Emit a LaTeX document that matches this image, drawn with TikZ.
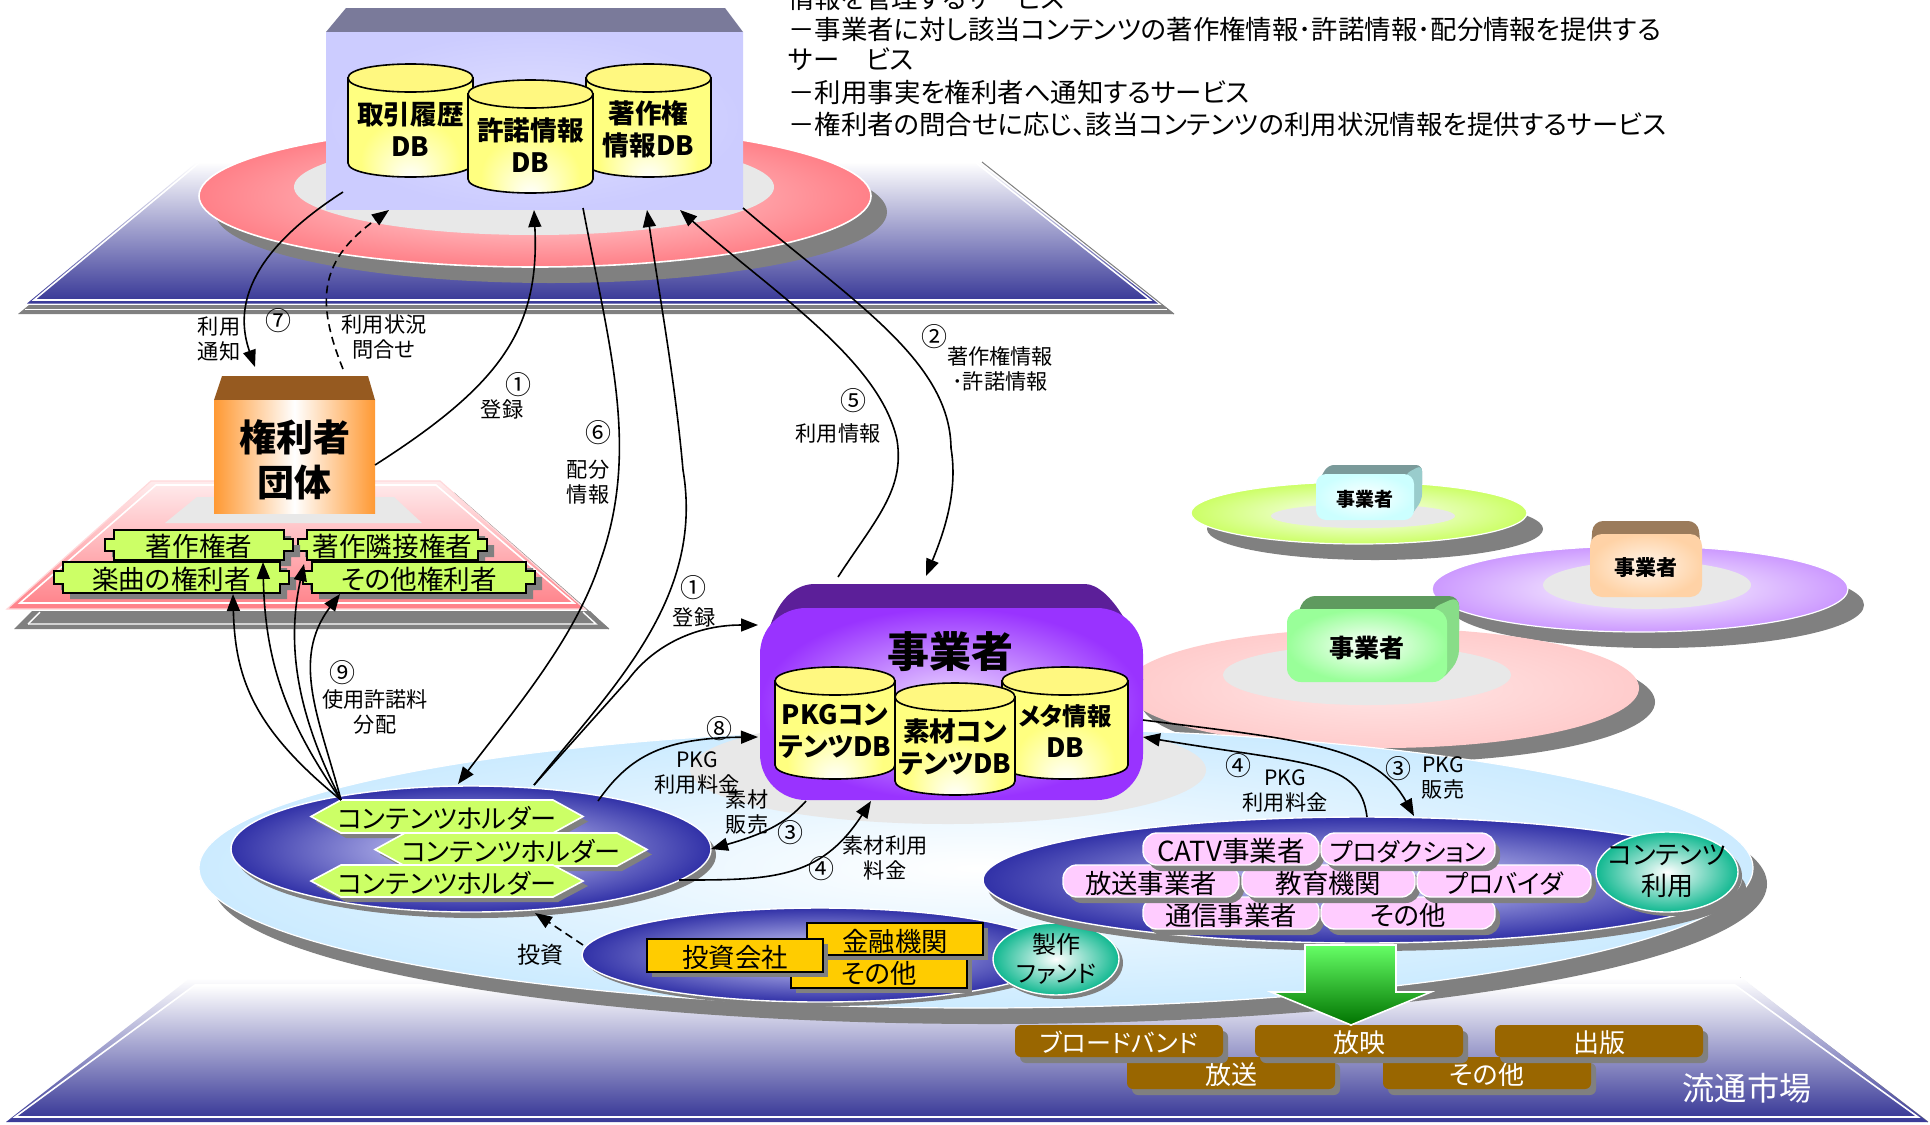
\documentclass[tikz,border=0pt]{standalone}
\usepackage{fontspec}
\setmainfont{Noto Sans CJK JP}[RawFeature={+palt}]
\usetikzlibrary{shapes.geometric,arrows.meta}
\definecolor{navy}{HTML}{3A3A98}
\definecolor{shgray}{HTML}{808080}
\definecolor{pinkred}{HTML}{FF8088}
\definecolor{lime}{HTML}{CCFF66}
\definecolor{gold}{HTML}{FFCC00}
\definecolor{brownb}{HTML}{996600}
\definecolor{pillpink}{HTML}{FFCCFF}
\definecolor{innergray}{HTML}{E8E8E8}
\definecolor{teal2}{HTML}{10B890}
\definecolor{lav}{HTML}{CCCCFF}
\definecolor{skyb}{HTML}{CCEBFF}
\definecolor{purp}{HTML}{9933FF}
\definecolor{purpd}{HTML}{5C1F99}
\definecolor{lilac}{HTML}{CC99FF}
\definecolor{oranf}{HTML}{FF9933}
\definecolor{dbtopc}{HTML}{7A7A9A}
\definecolor{kentop}{HTML}{965A20}
\pgfdeclareradialshading{cylshade}{\pgfpoint{0bp}{-24bp}}{color(0bp)=(white);color(20bp)=(yellow!50!white);color(50bp)=(yellow!50!white)}
\tikzset{
  fs/.style={font=\fontsize{#1pt}{1.2\dimexpr#1pt\relax}\selectfont},
  bfs/.style={font=\fontsize{#1pt}{1.2\dimexpr#1pt\relax}\selectfont\bfseries},
  lbl/.style={fs=10.6,align=center,inner sep=0pt},
  num/.style={fs=13,inner sep=0pt},
  shad/.style 2 args={preaction={fill=shgray,transform canvas={xshift=#1pt,yshift=-#2pt}}},
  conn/.style={-{Triangle[length=8.5pt,width=6.5pt]},line width=0.8pt,black},
  dash2/.style={dash pattern=on 4pt off 2.5pt},
  platgrad/.style={top color=white,middle color=navy!22!white,bottom color=navy},
  elbase/.style={ellipse,inner sep=0pt,outer sep=0pt},
  recbase/.style={rectangle,inner sep=0pt,outer sep=0pt,align=center},
}
\newcommand\elnode[6]{\node[elbase,minimum width=#4pt,minimum height=#5pt,#6] (#1) at (#2,#3) {};}
\newcommand\rbox[7][]{%
  \pgfmathsetmacro\rcx{(#3+#5)/2}\pgfmathsetmacro\rcy{(#4+#6)/2}%
  \pgfmathsetmacro\rw{(#5-#3)/2}\pgfmathsetmacro\rh{(#6-#4)/2}%
  \node[recbase,minimum width=\rw pt,minimum height=\rh pt,#7] (#2) at (\rcx,\rcy) {#1};}
\newcommand\dbcyl[6]{%
  \pgfmathsetmacro\cyA{#4+14}\pgfmathsetmacro\cyB{#5-14}\pgfmathsetmacro\cyC{#5+4.67}%
  \pgfmathsetmacro\cyD{#4-4.67}\pgfmathsetmacro\cyE{#4+32.67}%
  \pgfmathsetmacro\cyX{(#2+#3)/2}\pgfmathsetmacro\cyY{(#4+#5)/2+8.5}%
  \draw[line width=0.8pt,shading=cylshade] (#2,\cyA) -- (#2,\cyB) .. controls (#2,\cyC) and (#3,\cyC) .. (#3,\cyB) -- (#3,\cyA) -- cycle;
  \draw[line width=0.8pt,fill=yellow!50!white] (#2,\cyA) .. controls (#2,\cyD) and (#3,\cyD) .. (#3,\cyA) .. controls (#3,\cyE) and (#2,\cyE) .. (#2,\cyA) -- cycle;
  \node[bfs=13.3,align=center,inner sep=0pt] (#1) at (\cyX,\cyY) {#6};}
\newcommand\plaque[6]{%
  \pgfmathsetmacro\pA{#2+9}\pgfmathsetmacro\pB{#4-9}\pgfmathsetmacro\pC{#3+9}\pgfmathsetmacro\pD{#5-9}%
  \pgfmathsetmacro\rcx{(#2+#4)/2}\pgfmathsetmacro\rcy{(#3+#5)/2}%
  \pgfmathsetmacro\rw{(#4-#2)/2}\pgfmathsetmacro\rh{(#5-#3)/2}%
  \draw[fill=lime,line width=1pt,shad={3.5}{3}] (\pA,#3) -- (\pB,#3) -- (\pB,\pC) -- (#4,\pC) -- (#4,\pD) -- (\pB,\pD) -- (\pB,#5) -- (\pA,#5) -- (\pA,\pD) -- (#2,\pD) -- (#2,\pC) -- (\pA,\pC) -- cycle;
  \node[recbase,fs=13.3,minimum width=\rw pt,minimum height=\rh pt,text height=13.2pt,text depth=1.5pt] (#1) at (\rcx,\rcy) {#6};}
\newcommand\hexa[6]{%
  \pgfmathsetmacro\pA{#2+30}\pgfmathsetmacro\pB{#4-30}\pgfmathsetmacro\pC{(#3+#5)/2}%
  \pgfmathsetmacro\rw{(#4-#2)/2}\pgfmathsetmacro\rh{(#5-#3)/2}\pgfmathsetmacro\rcx{(#2+#4)/2}%
  \draw[fill=lime,draw=white,line width=0.8pt,shad={2.5}{2.5}] (#2,\pC) -- (\pA,#3) -- (\pB,#3) -- (#4,\pC) -- (\pB,#5) -- (\pA,#5) -- cycle;
  \node[recbase,fs=13.1,minimum width=\rw pt,minimum height=\rh pt,text height=13.5pt,text depth=1.5pt] (#1) at (\rcx,\pC) {#6};}
\begin{document}
\begin{tikzpicture}[x=0.5pt,y=-0.5pt]
\useasboundingbox (0,0) rectangle (1930,1124);
\fill[white] (0,0) rectangle (1930,1124);

%% ---------- top platform
\draw[shgray,line width=0.5pt] (982,162) -- (1174,314);
\fill[shgray] (18,314) -- (1174,314) -- (1163,305) -- (29,305) -- cycle;
\draw[white,line width=0.6pt] (25,309.5) -- (1167,309.5);
\shade[platgrad] (27,303.5) -- (1158,303.5) -- (978,162) -- (197,162) -- cycle;
\shade[platgrad,draw=white,line width=0.8pt] (34,300) -- (1150,300) -- (975,162) -- (200,162) -- cycle;

\elnode{redring}{535}{196}{336}{71}{shading=radial,inner color=pinkred!25!white,outer color=pinkred,draw=white,line width=0.8pt,shad={8}{8}}
\elnode{redcore}{534}{187}{240}{48}{fill=innergray}
\fill[fill=dbtopc] (326,32) -- (346,8) -- (725,8) -- (743,32) -- cycle;
\rbox{dbbox}{326}{32}{743}{209}{shading=radial,inner color=lav!60!white,outer color=lav}
\dbcyl{cylA}{348}{473}{64}{177}{取引履歴\\DB}
\dbcyl{cylC}{586}{711}{64}{177}{著作権\\情報DB}
\dbcyl{cylB}{468}{593}{80}{193}{許諾情報\\DB}

%% ---------- description text
\node[fs=13.2,anchor=west,inner sep=0pt] (d0) at (788,-2) {情報を管理するサービス};
\node[fs=13.2,anchor=west,inner sep=0pt] (d1) at (788,29) {－事業者に対し該当コンテンツの著作権情報･許諾情報･配分情報を提供する};
\node[fs=13.2,anchor=west,inner sep=0pt] (d2) at (788,59) {サー　ビス};
\node[fs=13.2,anchor=west,inner sep=0pt] (d3) at (788,92) {－利用事実を権利者へ通知するサービス};
\node[fs=13.2,anchor=west,inner sep=0pt] (d4) at (788,124) {－権利者の問合せに応じ、該当コンテンツの利用状況情報を提供するサービス};

%% ---------- rights-holder platform
\draw[shgray,line width=0.5pt] (454,493) -- (609,629);
\fill[shgray] (14,629) -- (609,629) -- (590,611) -- (32,611) -- cycle;
\draw[white,line width=0.7pt] (28,624) -- (596,624) -- (583,612);
\draw[white,line width=0.7pt] (28,624) -- (40,612);
\shade[top color=pinkred!15!white,bottom color=pinkred,draw=pinkred!30!white,line width=0.6pt] (7,609) -- (585,609) -- (440,481) -- (151,481) -- cycle;
\draw[white,line width=0.8pt] (20,603) -- (574,603) -- (436,485) -- (156,485) -- cycle;
\fill[innergray] (197,497) -- (394,497) -- (422,523) -- (165,523) -- cycle;

\fill[fill=kentop] (222,376) -- (368,376) -- (375,400) -- (214,400) -- cycle;
\rbox{kenri}{214}{400}{375}{513}{left color=oranf,right color=oranf,middle color=white}
\node[bfs=18.5,align=center,inner sep=0pt] (kenrit) at (294.5,460) {権利者\\団体};

\plaque{pB}{298}{530}{487}{560}{著作隣接権者}
\plaque{pA}{105}{530}{293}{560}{著作権者}
\plaque{pD}{303}{562}{535}{593}{その他権利者}
\plaque{pC}{54}{562}{289}{593}{楽曲の権利者}

%% ---------- small operators
\elnode{grn}{1359}{513}{168}{31}{shading=radial,inner color=white,outer color=lime,draw=white,line width=0.6pt,shad={8}{8}}
\elnode{grncore}{1363}{516}{92}{12}{fill=innergray}
\fill[rounded corners=3pt,fill={rgb,255:red,122;green,154;blue,154}] (1316,485) -- (1328,465) -- (1422,465) -- (1422,490) -- (1414,490) -- cycle;
\fill[fill={rgb,255:red,153;green,204;blue,204},rounded corners=3pt] (1405,474) -- (1422,465) -- (1422,500) -- (1408,520) -- cycle;
\rbox[事業者]{opA}{1316}{474}{1414}{520}{rounded corners=5pt,shading=radial,inner color=white,outer color=cyan!20!white,bfs=9.5,text height=10.2pt}

\elnode{pur}{1640}{589}{208}{43}{shading=radial,inner color=white,outer color=lilac,draw=white,line width=0.6pt,shad={8}{8}}
\elnode{purcore}{1647}{585}{104}{24}{fill=innergray}
\fill[rounded corners=5pt,fill={rgb,255:red,155;green,123;blue,91}] (1590,560) -- (1593,521) -- (1698,521) -- (1702,560) -- cycle;
\rbox[事業者]{opB}{1590}{534}{1702}{597}{rounded corners=6pt,shading=radial,inner color=orange!8!white,outer color=orange!35!white,bfs=10.5,text height=11.2pt}

\elnode{pnk}{1382}{688}{257}{60}{shading=radial,inner color=red!10!white,outer color=red!20!white,shad={8}{7}}
\elnode{pnkcore}{1367}{675}{144}{30}{fill=innergray}
\fill[rounded corners=5pt,fill={rgb,255:red,95;green,154;blue,95}] (1287,640) -- (1305,596) -- (1459,596) -- (1459,640) -- cycle;
\fill[rounded corners=5pt,fill={rgb,255:red,136;green,221;blue,136}] (1430,609) -- (1459,596) -- (1459,660) -- (1440,682) -- cycle;
\rbox[事業者]{opC}{1287}{609}{1447}{682}{rounded corners=7pt,shading=radial,inner color=white,outer color=green!40!white,bfs=12.5,text height=13.4pt}

%% ---------- bottom platform
\draw[shgray,line width=0.5pt] (1740,978) -- (1928,1122);
\shade[platgrad] (6,1122) -- (1928,1122) -- (1742,978) -- (190,978) -- cycle;
\shade[platgrad,draw=white,line width=0.8pt] (15,1117) -- (1918,1117) -- (1735,985) -- (195,985) -- cycle;
\node[fs=16.1,text=white,inner sep=0pt] (mkt) at (1747,1088) {流通市場};

\elnode{market}{976}{868}{777}{140}{shading=radial,inner color=white,outer color=skyb,draw=white,line width=0.6pt,shad={7}{8}}
\elnode{gcore}{948}{770}{258}{54}{fill=innergray}

%% ---------- main operator
\fill[fill=purpd] (762,680) .. controls (762,630) and (780,584) .. (815,584) -- (1085,584) .. controls (1110,584) and (1143,640) .. (1143,680) -- cycle;
\rbox{jig}{760}{608}{1143}{800}{rounded corners=23pt,shading=radial,inner color=purp!15!white,outer color=purp}
\node[bfs=21,inner sep=0pt] (jigt) at (950,652) {事業者};
\dbcyl{cylP}{775}{895}{667}{779}{PKGコン\\テンツDB}
\dbcyl{cylM}{1002}{1128}{667}{779}{{\fontsize{12.2pt}{16pt}\selectfont メタ情報}\\DB}
\dbcyl{cylS}{895}{1015}{683}{795}{素材コン\\テンツDB}

%% ---------- content holders
\elnode{ch}{471}{849}{240}{63}{shading=radial,inner color=lav!70!white,outer color=navy!85!blue,draw=white,line width=0.7pt,shad={2.5}{3}}
\hexa{h1}{311}{800}{583}{833}{コンテンツホルダー}
\hexa{h2}{375}{833}{647}{866}{コンテンツホルダー}
\hexa{h3}{311}{865}{583}{897}{コンテンツホルダー}

%% ---------- fund
\elnode{fund}{820}{955}{238}{47}{shading=radial,inner color=lav!70!white,outer color=navy!85!blue,draw=white,line width=0.7pt,shad={2}{2}}
\tikzset{goldb/.style={draw=black,line width=0.8pt,fill=gold,fs=13.2,shad={2.5}{2.5},text height=13.5pt,text depth=1.5pt}}
\rbox[その他]{f3}{791}{955}{967}{988}{goldb}
\rbox[金融機関]{f2}{807}{923}{983}{955}{goldb}
\rbox[投資会社]{f1}{647}{939}{823}{972}{goldb}
\node[elbase,minimum width=63pt,minimum height=31.5pt,shading=radial,inner color=white,outer color=teal2,draw=white,line width=0.7pt,shad={2}{2},fs=12,align=center] (fundc) at (1056,959) {製作\\ファンド};

%% ---------- users
\elnode{users}{1362}{880}{379}{63}{shading=radial,inner color=lav!70!white,outer color=navy!85!blue,draw=white,line width=0.7pt,shad={2.5}{4}}
\tikzset{pill/.style={rounded corners=7pt,fill=pillpink,draw=white,line width=0.7pt,fs=13.2,shad={2.5}{3},text height=13.5pt,text depth=1.5pt}}
\rbox[通信事業者]{u6}{1143}{897}{1319}{929}{pill}
\rbox[その他]{u7}{1321}{897}{1495}{929}{pill}
\rbox[放送事業者]{u3}{1063}{865}{1239}{897}{pill}
\rbox[教育機関]{u4}{1242}{865}{1415}{897}{pill}
\rbox[プロバイダ]{u5}{1417}{865}{1591}{897}{pill,fs=12.8}
\rbox[CATV事業者]{u1}{1143}{833}{1319}{865}{pill,fs=13.8}
\rbox[プロダクション]{u2}{1321}{833}{1495}{865}{pill,fs=12.5}
\elnode{usec}{1667}{872}{71}{40}{shading=radial,inner color=white,outer color=teal2,draw=white,line width=0.7pt,shad={2}{2}}
\node[fs=13,align=center,inner sep=0pt] (usect) at (1667,871) {コンテンツ\\利用};

%% ---------- market boxes
\tikzset{brn/.style={rounded corners=3pt,fill=brownb,text=white,fs=13,shad={2.5}{3},text height=13.4pt,text depth=1.5pt}}
\rbox[放送]{m4}{1127}{1057}{1335}{1089}{brn}
\rbox[その他]{m5}{1383}{1057}{1591}{1089}{brn}
\rbox[ブロードバンド]{m1}{1015}{1025}{1223}{1057}{brn,fs=12.5}
\rbox[放映]{m2}{1255}{1025}{1463}{1057}{brn}
\rbox[出版]{m3}{1495}{1025}{1703}{1057}{brn}
\shade[top color=green!60!white,bottom color=green!45!black,draw=white,line width=0.8pt] (1305,945) -- (1396,945) -- (1396,992) -- (1431,992) -- (1351,1025) -- (1271,992) -- (1305,992) -- cycle;

%% ---------- connectors
\draw[conn] ([shift={(-191.5,71.5)}]dbbox.center) .. controls (245,255) and (235,310) .. ([shift={(-39.5,-89.5)}]kenri.center);
\draw[conn,dash2] ([shift={(48.5,-87.5)}]kenri.center) .. controls (315,300) and (320,260) .. ([shift={(-145.5,89.5)}]dbbox.center);
\draw[conn] ([shift={(80.5,8.5)}]kenri.center) .. controls (500,385) and (540,330) .. ([shift={(-.5,89.5)}]dbbox.center);
\draw[conn] ([shift={(48.5,87.5)}]dbbox.center) .. controls (610,350) and (640,450) .. (600,562) .. controls (575,640) and (510,715) .. ([shift={(-13,-65)}]ch.center);
\draw[conn] ([shift={(63,-64)}]ch.center) .. controls (610,690) and (705,600) .. (683,470) .. controls (675,380) and (660,300) .. ([shift={(112.5,89.5)}]dbbox.center);
\draw[conn] ([shift={(63,-64)}]ch.center) -- (628,680) .. controls (650,650) and (690,625) .. ([shift={(-193.5,-79)}]jig.center);
\draw[conn] ([shift={(-113.5,-127)}]jig.center) .. controls (875,520) and (905,490) .. (897,440) .. controls (880,360) and (770,290) .. ([shift={(145.5,89.5)}]dbbox.center);
\draw[conn] ([shift={(208.5,87.5)}]dbbox.center) .. controls (850,300) and (950,360) .. (951,448) .. controls (958,490) and (945,530) .. ([shift={(-25.5,-128)}]jig.center);
\draw[conn] ([shift={(127,-48)}]ch.center) .. controls (630,755) and (665,738) .. ([shift={(-193.5,33)}]jig.center);
\draw[conn] ([shift={(-145.5,97)}]jig.center) .. controls (785,825) and (760,835) .. ([shift={(240,0)}]ch.center);
\draw[conn] ([shift={(208,31)}]ch.center) .. controls (770,880) and (820,880) .. ([shift={(-80.5,97)}]jig.center);
\draw[conn] ([shift={(191.5,16)}]jig.center) .. controls (1300,740) and (1375,745) .. ([shift={(52,-64)}]users.center);
\draw[conn] ([shift={(5,-63)}]users.center) .. controls (1360,760) and (1310,765) .. ([shift={(191.5,33)}]jig.center);
\draw[conn] ([shift={(-130,-49)}]ch.center) .. controls (255,730) and (235,680) .. ([shift={(61.5,16.5)}]pC.center);
\draw[conn] ([shift={(-130,-49)}]ch.center) .. controls (285,720) and (265,660) .. ([shift={(91.5,-15.5)}]pC.center);
\draw[conn] ([shift={(-130,-49)}]ch.center) .. controls (300,720) and (285,650) .. ([shift={(-115,-13.5)}]pD.center);
\draw[conn] ([shift={(-130,-49)}]ch.center) .. controls (320,720) and (290,660) .. ([shift={(-79,16.5)}]pD.center);
\draw[conn,dash2] ([shift={(-237,-10)}]fund.center) -- ([shift={(64,64)}]ch.center);

%% ---------- labels
\node[num] (n7) at (278,321) {⑦};
\node[lbl] (l7a) at (219,339) {利用\\通知};
\node[lbl] (l7b) at (384,337) {利用状況\\問合せ};
\node[num] (n1a) at (518,385) {①};
\node[lbl] (l1a) at (502,409) {登録};
\node[num] (n6) at (598,433) {⑥};
\node[lbl] (l6) at (588,482) {配分\\情報};
\node[num] (n5) at (853,401) {⑤};
\node[lbl] (l5) at (838,433) {利用情報};
\node[num] (n2) at (934,337) {②};
\node[lbl] (l2) at (1000,369) {著作権情報\\･許諾情報};
\node[num] (n1b) at (693,588) {①};
\node[lbl] (l1b) at (694,617) {登録};
\node[num] (n9) at (342,673) {⑨};
\node[lbl] (l9) at (375,712) {使用許諾料\\分配};
\node[num] (n8) at (719,729) {⑧};
\node[lbl] (l8) at (697,773) {PKG\\利用料金};
\node[lbl] (l3a) at (747,812) {素材\\販売};
\node[num] (n3a) at (790,833) {③};
\node[num] (n4a) at (821,869) {④};
\node[lbl] (l4a) at (885,858) {素材利用\\料金};
\node[num] (n4b) at (1238,766) {④};
\node[lbl] (l4b) at (1285,791) {PKG\\利用料金};
\node[num] (n3b) at (1398,769) {③};
\node[lbl] (l3b) at (1443,778) {PKG\\販売};
\node[lbl,fs=11.5] (linv) at (540,955) {投資};
\end{tikzpicture}
\end{document}
